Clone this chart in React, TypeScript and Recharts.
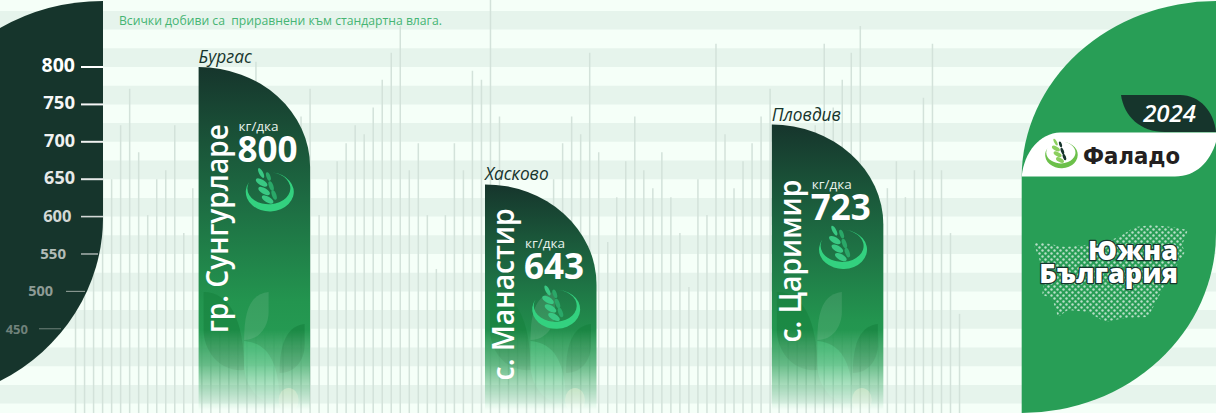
import { Bar, ComposedChart, ReferenceArea, XAxis, YAxis } from "recharts";

const WIDTH = 1216;
const HEIGHT = 413;
const FONT = '"Open Sans", sans-serif';
const DARK = "#16352c";

// Thin background bars, one per trial field, in order (kg/dka)
const fieldYields = [
  540, 580, 620, 650, 650, 722, 771, 686, 602, 650, 662, 722, 578, 638, 610, 590, 650, 630, 570, 600,
  807, 640, 660, 620, 680, 734, 771, 602, 650, 674, 698, 722, 710, 746, 783, 819, 855, 662, 698, 602,
  530, 602, 698, 662, 795, 783, 890, 734, 590, 560, 610, 620, 580, 650, 698, 734, 710, 819, 686, 566,
  626, 674, 734, 662, 638, 686, 626, 578, 506, 650, 602, 831, 710, 638, 674, 698, 734, 771, 640, 660,
  620, 680, 722, 831, 746, 783, 819, 855, 630, 610, 638, 674, 626, 662, 759, 831, 662, 578, 470,
];

// Top sites, drawn as the wide bars
const topSites = ["гр. Сунгурларе", "с. Манастир", "с. Царимир"];
const topRegions = ["Бургас", "Хасково", "Пловдив"];
const topYields = [800, 643, 723];
const topPositions = [19.9, 51.65, 83.45];

const yTicks = [450, 500, 550, 600, 650, 700, 750, 800];
const stripeStarts = [350, 400, 450, 500, 550, 600, 650, 700, 750, 800, 850];

const Y_DOMAIN = [337.4, 889.6];
const X_DOMAIN = [-8.348, 126.46];

// label offset from the bar top and drawn length, differs per site
const nameOffsets = [57, 24, 55];
const nameLengths = [209, 172, 163];

// the axis fades out as it goes round the dark panel
const tickLook: Record<number, { right: number; size: number; fill: string; x1: number; x2: number; lineW: number }> = {
  800: { right: 75, size: 19.5, fill: "#ffffff", x1: 81, x2: 103, lineW: 2 },
  750: { right: 75, size: 18.5, fill: "#f6f7f7", x1: 81, x2: 103, lineW: 2 },
  700: { right: 75, size: 18, fill: "#f0f2f1", x1: 81, x2: 103, lineW: 2 },
  650: { right: 75, size: 18, fill: "#e6e9e8", x1: 81, x2: 103, lineW: 2 },
  600: { right: 71.5, size: 16.5, fill: "#d3d8d6", x1: 81, x2: 103, lineW: 1.6 },
  550: { right: 66, size: 15, fill: "#b3bcb8", x1: 81, x2: 98, lineW: 1.4 },
  500: { right: 53, size: 14.5, fill: "#8e9c96", x1: 66, x2: 85, lineW: 1.1 },
  450: { right: 28, size: 13, fill: "#70827b", x1: 39, x2: 61, lineW: 1 },
};

const fieldData = fieldYields.map((y, i) => ({ pos: i, field: y }));
const topData = topYields.map((y, i) => ({ pos: topPositions[i], top: y, site: i }));

function YieldTick({ y, payload }: any) {
  const look = tickLook[payload.value];
  if (!look) return null;
  return (
    <g>
      <line x1={look.x1} x2={look.x2} y1={y} y2={y} stroke={look.fill} strokeWidth={look.lineW} />
      <text
        x={look.right}
        y={y + 5}
        textAnchor="end"
        fontFamily={FONT}
        fontWeight={700}
        fontSize={look.size}
        fill={look.fill}
      >
        {payload.value}
      </text>
    </g>
  );
}

function LeftPanel() {
  return <path d="M103 1 L103 218 A194.3 185 0 0 1 0 381 L0 28 A194.3 176 0 0 1 103 1 Z" fill={DARK} />;
}

function WheatMark({ cx, cy, scale = 1, ring, leafA, leafB }: any) {
  const left = [
    [-8, -19, 62, 5.5, 2],
    [-7.5, -9.5, 30, 6.5, 3],
    [-5, -1, 30, 6.5, 3],
    [-1.5, 7.5, 30, 6.5, 3],
  ];
  const right = [
    [-0.7, -15.5, 70, 4.5, 2],
    [2, -6, 70, 5, 2.2],
    [5, 3, 70, 5, 2.2],
  ];
  return (
    <g transform={`translate(${cx} ${cy}) scale(${scale})`}>
      <path d="M-20 -10 A24 19.5 0 1 0 3 -19.5 A21.5 16 0 1 1 -20 -10 Z" fill={ring} />
      {right.map(([x, y, r, a, b], i) => (
        <ellipse key={i} cx={x} cy={y} rx={a} ry={b} transform={`rotate(${r} ${x} ${y})`} fill={leafB} />
      ))}
      {left.map(([x, y, r, a, b], i) => (
        <ellipse key={i} cx={x} cy={y} rx={a} ry={b} transform={`rotate(${r} ${x} ${y})`} fill={leafA} />
      ))}
    </g>
  );
}

function TopBar(props: any) {
  const { x, y, width, height, payload } = props;
  if (payload.site === undefined || !height) return null;
  const i = payload.site;
  const h = Math.min(100, height);
  return (
    <g>
      <defs>
        <linearGradient id={`topFill${i}`} x1="0" y1="0" x2="0" y2="1">
          <stop offset="0" stopColor="#16352c" />
          <stop offset="0.38" stopColor="#1d6b42" />
          <stop offset="0.68" stopColor="#23954f" />
          <stop offset="1" stopColor="#2aa65a" />
        </linearGradient>
        <linearGradient id={`fade${i}`} gradientUnits="userSpaceOnUse" x1="0" y1="330" x2="0" y2="410">
          <stop offset="0" stopColor="#fff" />
          <stop offset="0.45" stopColor="#a8a8a8" />
          <stop offset="1" stopColor="#000" />
        </linearGradient>
        <mask id={`mask${i}`} maskUnits="userSpaceOnUse" x="0" y="0" width={WIDTH} height={HEIGHT}>
          <rect x="0" y="0" width={WIDTH} height={HEIGHT} fill={`url(#fade${i})`} />
        </mask>
      </defs>
      <g mask={`url(#mask${i})`}>
        <path
          d={`M${x} ${y} A${width} ${h} 0 0 1 ${x + width} ${y + h} L${x + width} ${y + height} L${x} ${y + height} Z`}
          fill={`url(#topFill${i})`}
        />
        <g transform={`translate(${x} 0)`}>
          <path d="M5 292 C30 292 45.5 318 45.5 370 C20 372 5 350 5 330 Z" fill="#15803d" opacity={0.55} />
          <path d="M70 292 C52 294 45.5 310 45.5 340 C62 340 70 325 70 312 Z" fill="#ffffff" opacity={0.1} />
          <path d="M106 324 C90 326 81 340 81 373 C98 373 106 358 106 345 Z" fill="#15803d" opacity={0.6} />
          <path d="M45.5 341 C68 343 81 360 81 405 C60 405 45.5 385 45.5 365 Z" fill="#3bc878" opacity={0.45} />
          <ellipse cx="90" cy="400" rx="10" ry="12" fill="#dde89a" opacity={0.5} />
        </g>
      </g>
      <text x={x} y={y - 4} fontFamily={FONT} fontStyle="italic" fontSize={17.3} fill={DARK}>
        {topRegions[i]}
      </text>
      <text
        transform={`translate(${x + 29} ${y + nameOffsets[i]}) rotate(-90)`}
        textAnchor="end"
        fontFamily={FONT}
        fontWeight={600}
        fontSize={31}
        fill="#ffffff"
        textLength={nameLengths[i]}
        lengthAdjust="spacingAndGlyphs"
      >
        {topSites[i]}
      </text>
      <text x={x + 40} y={y + 64} fontFamily={FONT} fontSize={13.5} fill="#e8f2ec">
        кг/дка
      </text>
      <text x={x + 39} y={y + 95} fontFamily={FONT} fontWeight={700} fontSize={35} fill="#ffffff">
        {payload.top}
      </text>
      <WheatMark cx={x + 70.5} cy={y + 125} ring="#33d17f" leafA="#39c883" leafB="#2aa868" />
    </g>
  );
}

const bulgaria =
  "1188,230 1172,227 1152,225 1135,227 1122,235 1105,243 1085,245 1065,247 1045,243 1033,243 1038,255 1045,278 1042,295 1052,298 1058,317 1068,310 1088,312 1105,322 1125,318 1148,317 1158,298 1168,278 1175,268 1185,252 1182,245";

function Overlay() {
  return (
    <svg width={WIDTH} height={HEIGHT} style={{ position: "absolute", left: 0, top: 0, pointerEvents: "none" }}>
      <defs>
        <pattern id="dots" patternUnits="userSpaceOnUse" width="6" height="6">
          <circle cx="1.5" cy="1.5" r="1.2" fill="#b8dfc8" />
          <circle cx="4.5" cy="4.5" r="1.2" fill="#b8dfc8" />
        </pattern>
      </defs>
      <text x={119} y={25} fontFamily={FONT} fontSize={12.2} fill="#45b573" xmlSpace="preserve">
        Всички добиви са  приравнени към стандартна влага.
      </text>

      <path
        d="M1216 1 A194.3 176 0 0 0 1021.7 177 L1021.7 413 A194.3 180 0 0 0 1216 233 Z"
        fill="#289e56"
      />
      <path d="M1121 95 L1180 95 C1200 95 1214 112 1216 132 L1165 132 C1140 132 1124 116 1121 95 Z" fill={DARK} />
      <text x={1196} y={122} textAnchor="end" fontFamily={FONT} fontStyle="italic" fontWeight={600} fontSize={24} fill="#ffffff">
        2024
      </text>
      <path
        d="M1021.7 176.5 C1024 152 1040 133 1060 132.5 L1216 132.5 L1216 142 C1210 162 1196 176.5 1175 176.5 Z"
        fill="#ffffff"
      />
      <WheatMark cx={1061} cy={155} scale={0.68} ring="#6cc04a" leafA="#8ccf5f" leafB="#16352c" />
      <text
        x={1083}
        y={163.5}
        fontFamily='"DejaVu Sans", sans-serif'
        fontWeight={700}
        fontSize={23}
        fill="#231f20"
        textLength={97}
        lengthAdjust="spacingAndGlyphs"
      >
        Фаладо
      </text>

      <polygon points={bulgaria} fill="url(#dots)" />
      <g
        textAnchor="end"
        fontFamily={FONT}
        fontWeight={800}
        fontSize={27}
        fill="#ffffff"
        stroke={DARK}
        strokeWidth={2.5}
        strokeLinejoin="round"
        style={{ paintOrder: "stroke" }}
      >
        <text x={1178} y={260}>
          Южна
        </text>
        <text x={1178} y={283}>
          България
        </text>
      </g>
    </svg>
  );
}

const layer = { position: "absolute", left: 0, top: 0 } as const;
const noMargin = { top: 0, right: 0, bottom: 0, left: 0 };

export default function App() {
  return (
    <div
      style={{ ...layer, width: WIDTH, height: HEIGHT, overflow: "hidden", background: "#f5fff8" }}
    >
      {/* stripes and the thin field bars */}
      <div style={layer}>
        <ComposedChart width={WIDTH} height={HEIGHT} data={fieldData} margin={noMargin}>
          <XAxis dataKey="pos" type="number" domain={X_DOMAIN} allowDataOverflow hide />
          <YAxis type="number" domain={Y_DOMAIN} allowDataOverflow hide />
          {stripeStarts.map((v) => (
            <ReferenceArea key={v} y1={v} y2={v + 25} fill="#e6f4ec" fillOpacity={1} stroke="none" ifOverflow="hidden" />
          ))}
          <Bar dataKey="field" barSize={1.5} fill="#d3e2da" isAnimationActive={false} />
        </ComposedChart>
      </div>
      {/* axis panel and the wide top-site bars */}
      <div style={layer}>
        <ComposedChart width={WIDTH} height={HEIGHT} data={topData} margin={noMargin}>
          <XAxis dataKey="pos" type="number" domain={X_DOMAIN} allowDataOverflow hide />
          <YAxis
            type="number"
            domain={Y_DOMAIN}
            ticks={yTicks}
            allowDataOverflow
            mirror
            axisLine={false}
            tickLine={false}
            tick={YieldTick}
            interval={0}
          />
          <ReferenceArea shape={LeftPanel} ifOverflow="visible" />
          <Bar dataKey="top" barSize={111.5} shape={TopBar} isAnimationActive={false} />
        </ComposedChart>
      </div>
      <Overlay />
    </div>
  );
}
